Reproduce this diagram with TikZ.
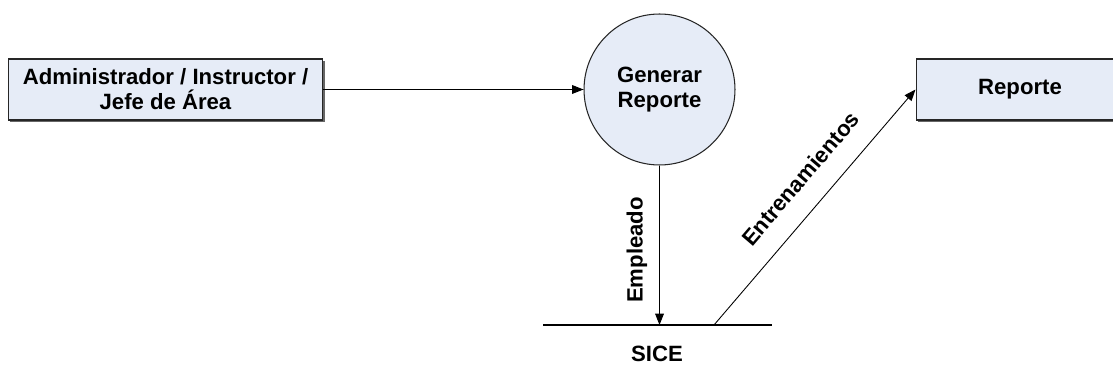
\documentclass[tikz,border=0pt]{standalone}
\usepackage{fontspec}
\setmainfont{Liberation Sans}
\usetikzlibrary{arrows.meta,shadows}
\definecolor{procfill}{RGB}{230,236,247}
\begin{document}
\begin{tikzpicture}[x=0.02cm,y=-0.02cm,
        font=\fontsize{12.6}{14.2}\selectfont\bfseries,
        entity/.style={draw=black!85, fill=procfill, line width=0.6pt, minimum height=1.22cm, align=center,
            drop shadow={shadow xshift=1.1pt, shadow yshift=-1.1pt, fill=black!60, opacity=1}},
        process/.style={circle, draw=black!85, fill=procfill, line width=0.6pt, minimum size=3.02cm, inner sep=0pt, align=center},
        flow/.style={-{Triangle[length=6.5pt,width=5pt]}, line width=0.5pt}]
        \useasboundingbox (0,0) rectangle (1113,381);

        % entities and process
        \node[entity, minimum width=6.3cm] (admin) at (165.5,89.5) {Administrador / Instructor /\\Jefe de Área};
        \node[process] (gen) at (659.5,89.5) {Generar\\Reporte};
        \node[entity, minimum width=4.16cm] (rep) at (1020,89.5) {Reporte};

        % data store
        \coordinate (sicel) at (543,325);
        \coordinate (sicer) at (772,325);
        \coordinate (emp) at (659.5,325);
        \coordinate (ent) at (714,325);
        \draw[line width=0.6pt] (sicel) -- (sicer);
        \node (sice) at (657,354) {SICE};

        % flows
        \draw[flow] (admin) -- (gen);
        \draw[flow] (gen) -- (emp);
        \path (emp) -- (gen.south) node[pos=0.47, sloped, above=3.5pt] {Empleado};
        \draw[flow] (ent) -- (rep.west) node[pos=0.54, sloped, above=8.5pt] {Entrenamientos};
    \end{tikzpicture}
\end{document}
